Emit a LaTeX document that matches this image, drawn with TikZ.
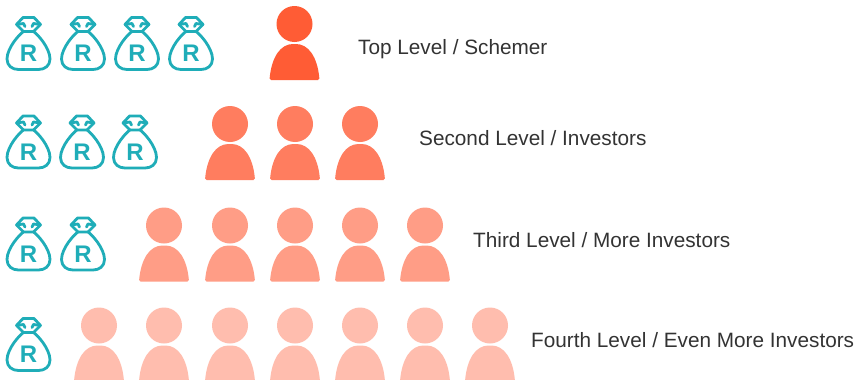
\documentclass[tikz,border=0pt]{standalone}
\usepackage{fontspec}
\setmainfont{Liberation Sans}
\definecolor{bagc}{HTML}{1FADB8}
\definecolor{lvA}{HTML}{FF5C35}
\definecolor{lvB}{HTML}{FF7D5F}
\definecolor{lvC}{HTML}{FF9D86}
\definecolor{lvD}{HTML}{FFBDAE}
\definecolor{txt}{HTML}{333333}
\tikzset{
  lbl/.style={anchor=base west,inner sep=0pt,text=txt,font=\fontsize{20.75}{24}\selectfont},
  bagline/.style={draw=bagc,line width=2.8pt,line join=round,line cap=round},
  pics/bag/.style={code={
    % origin: bag centre x, y=0 at the top of the knot
    \path[bagline,fill=white] (-5,15.5) .. controls (-9,18) and (-21.5,32) .. (-21.5,43)
      .. controls (-21.5,50) and (-16,53.5) .. (-10,53.5) -- (10,53.5)
      .. controls (16,53.5) and (21.5,50) .. (21.5,43)
      .. controls (21.5,32) and (9,18) .. (5,15.5) -- cycle;
    \path[bagline] (-5,15.5) -- (-12,8.5) -- (-5.5,1.5) -- (5.5,1.5) -- (12,8.5) -- (5,15.5);
    \path[bagline] (-12,8.5) -- (-5,7.5) -- (-3.5,10.5);
    \path[bagline] (12,8.5) -- (5,7.5) -- (3.5,10.5);
    \node[inner sep=0pt,text=bagc,font=\fontsize{24}{26}\selectfont\bfseries] at (0,37.5) {R};
  }},
  pics/person/.style={code={
    % origin: person centre x, y=0 at the centre of the head
    \fill[#1] (0,0) circle[radius=18];
    \fill[#1,rounded corners=1.5pt] (-25,56) .. controls (-23,33) and (-14,20) .. (0,20)
      .. controls (14,20) and (23,33) .. (25,56) -- cycle;
  }},
}
\begin{document}
\begin{tikzpicture}[x=1pt,y=-1pt]
\useasboundingbox (0,0) rectangle (862,380);
\fill[white] (0,0) rectangle (862,380);
% Row 1
\foreach \x in {28.5,83,137,191} \pic at (\x,16) {bag};
\pic at (294.5,24) {person=lvA};
\node[lbl] (l1) at (358,54) {Top Level / Schemer};
% Row 2
\foreach \x in {28.5,82,135} \pic at (\x,114.5) {bag};
\foreach \x in {230,295,360} \pic at (\x,124) {person=lvB};
\node[lbl] (l2) at (419,145) {Second Level / Investors};
% Row 3
\foreach \x in {28.5,83} \pic at (\x,216.5) {bag};
\foreach \x in {164,230,295,360,425} \pic at (\x,225.5) {person=lvC};
\node[lbl] (l3) at (473,247) {Third Level / More Investors};
% Row 4
\pic at (28.5,317) {bag};
\foreach \x in {99,164,230,295,360,425,490} \pic at (\x,325.5) {person=lvD};
\node[lbl] (l4) at (531,347) {Fourth Level / Even More Investors};
\end{tikzpicture}
\end{document}
